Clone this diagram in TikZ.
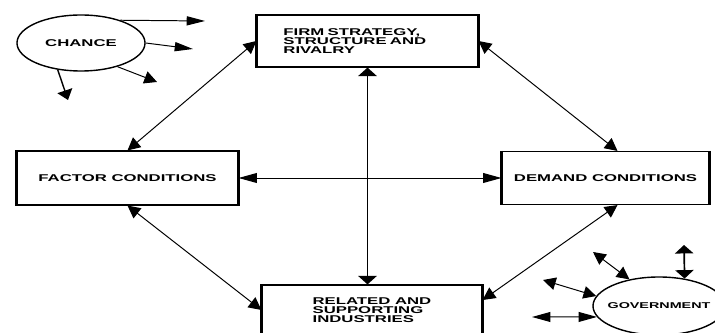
\documentclass[tikz,border=0pt]{standalone}
\usepackage{fontspec}
\newfontfamily\lblfont[FakeStretch=1.7]{Liberation Sans}
\usetikzlibrary{arrows.meta,shapes.geometric}

\tikzset{
	lbl/.style={font=\lblfont\bfseries\fontsize{7pt}{6.2pt}\selectfont},
	box/.style={lbl, draw, line width=0.8pt, inner sep=0pt,
		append after command={(\tikzlastnode.north west) edge[line width=1.8pt] (\tikzlastnode.south west)
			(\tikzlastnode.north east) edge[line width=1.8pt] (\tikzlastnode.south east)}},
	blob/.style={lbl, ellipse, draw, line width=1pt, inner sep=0pt},
	link/.style={line width=0.7pt},
	hone/.style={link, -{Triangle[length=13pt,width=6.5pt]}},
	done/.style={link, -{Triangle[length=9pt,width=9pt]}},
	vone/.style={link, line width=1pt, -{Triangle[length=7pt,width=11pt]}},
	hboth/.style={link, {Triangle[length=13pt,width=7pt]}-{Triangle[length=13pt,width=7pt]}},
	dboth/.style={link, {Triangle[length=9pt,width=9pt]}-{Triangle[length=9pt,width=9pt]}},
	vboth/.style={link, line width=1.2pt, {Triangle[length=6pt,width=13pt]}-{Triangle[length=6pt,width=13pt]}}
}

\begin{document}
\begin{tikzpicture}[x=0.025cm, y=-0.025cm]
	\clip (0,0) rectangle (715,333);

	\node[box, minimum width=5.525cm, minimum height=1.3cm, text width=4.2cm, align=left] (firm) at (367.5,41) {FIRM STRATEGY,\\STRUCTURE AND\\RIVALRY};
	\node[box, minimum width=5.525cm, minimum height=1.35cm] (factor) at (127.5,178) {FACTOR CONDITIONS};
	\node[box, minimum width=5.175cm, minimum height=1.325cm] (demand) at (605.5,178) {DEMAND CONDITIONS};
	\node[box, minimum width=5.5cm, minimum height=1.25cm, align=left] (related) at (372,310) {RELATED AND\\SUPPORTING\\INDUSTRIES};

	\node[blob, minimum width=3.2cm, minimum height=1.4cm] (chance) at (81,43) {CHANCE};
	\node[blob, minimum width=3.3cm, minimum height=1.45cm, inner xsep=-0.15cm, font=\lblfont\bfseries\fontsize{6pt}{6pt}\selectfont] (gov) at (659,306) {GOVERNMENT};

	% the diamond
	\draw[dboth] (firm.west) -- (factor.north);
	\draw[dboth] (firm.east) -- ([xshift=0.3cm]demand.north);
	\draw[vboth] (firm.south) -- (firm.south |- related.north);
	\draw[hboth] (factor.east) -- (demand.west);
	\draw[dboth] (factor.south) -- (related.west);
	\draw[dboth] ([xshift=0.3cm]demand.south) -- ([yshift=0.25cm]related.east);

	% chance
	\coordinate (c1) at (205,21);
	\coordinate (c2) at (193,49);
	\coordinate (c3) at (157,82);
	\coordinate (c4) at (68,100);
	\draw[hone] (chance.30) -- (c1);
	\draw[hone] (chance.east) -- (c2);
	\draw[done] (chance.-33) -- (c3);
	\draw[vone] (chance.-131) -- (c4);

	% government
	\coordinate (g1) at (684,245);
	\coordinate (g2) at (593,252);
	\coordinate (g3) at (543,280);
	\coordinate (g4) at (532,317);
	\draw[vboth] (gov.47) -- (g1);
	\draw[dboth] (gov.138) -- (g2);
	\draw[dboth] (gov.171) -- (g3);
	\draw[hboth] (gov.190) -- (g4);
\end{tikzpicture}
\end{document}
